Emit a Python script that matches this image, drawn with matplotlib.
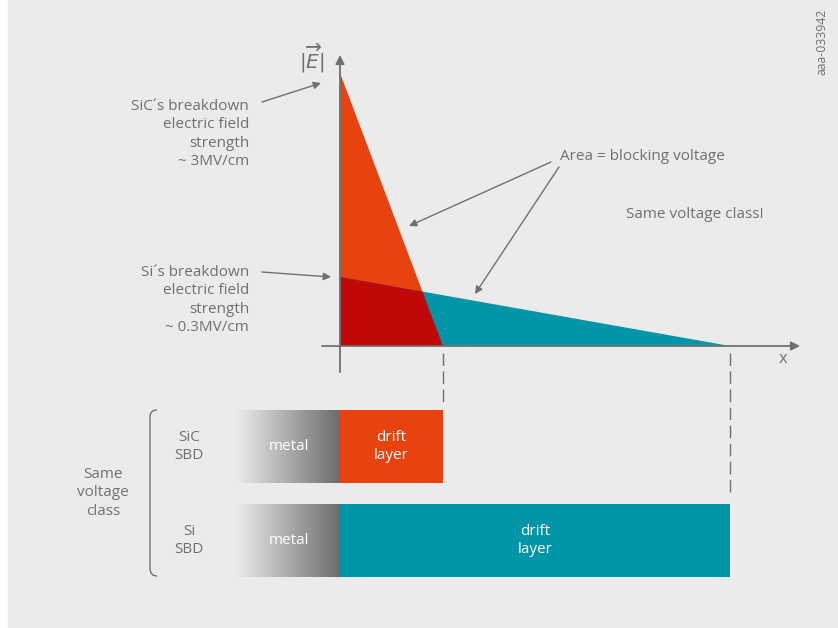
import numpy as np
import matplotlib
matplotlib.use('Agg')
from matplotlib import pyplot as plt
from matplotlib.patches import Polygon, Rectangle, PathPatch
from matplotlib.path import Path

# diagram values (relative units: 1 unit = 100 px of the drawing)
materials = ['SiC', 'Si']
peak_field = [2.73, 0.69]        # breakdown field drawn height
drift_width = [1.03, 3.90]       # drift layer thickness
field_labels = ['SiC\u00b4s breakdown\nelectric field\nstrength\n~ 3MV/cm',
                'Si\u00b4s breakdown\nelectric field\nstrength\n~ 0.3MV/cm']
device_labels = ['SiC\nSBD', 'Si\nSBD']
fill_colors = ['#e8420e', '#0096a8']
overlap_color = '#c00808'
metal_width = 1.03

GRAY = '#707070'
plt.rcParams['font.family'] = ['Open Sans', 'DejaVu Sans']
plt.rcParams['font.size'] = 11


def px(x, y):
    # pixel position of the reference drawing -> data units
    return ((x - 340) / 100.0, (346 - y) / 100.0)


fig = plt.figure(figsize=(8.38, 6.28), dpi=100)
fig.patch.set_facecolor('white')
ax = fig.add_axes([0, 0, 1, 1])
ax.set_xlim(-3.40, 4.98)
ax.set_ylim(-2.82, 3.46)
ax.axis('off')

# background panel
x0, y0 = px(8, 628)
ax.add_patch(Rectangle((x0, y0), 10, 7, color='#ebebeb', zorder=0))

# field triangles
tri = []
for i in range(2):
    p = Polygon([(0, 0), (0, peak_field[i]), (drift_width[i], 0)],
                closed=True, color=fill_colors[i], lw=0, zorder=2)
    ax.add_patch(p)
    tri.append(p)
ov = Polygon([(0, 0), (0, peak_field[1]), (drift_width[1], 0)],
             closed=True, color=overlap_color, lw=0, zorder=3)
ax.add_patch(ov)
ov.set_clip_path(tri[0])

# axes arrows
arw = dict(arrowstyle='-|>', color=GRAY, lw=1.3, mutation_scale=13,
           shrinkA=0, shrinkB=0)
ax.annotate('', xy=px(340, 55), xytext=px(340, 372), arrowprops=arw, zorder=4)
ax.annotate('', xy=px(800, 346), xytext=px(322, 346), arrowprops=arw, zorder=4)
ax.text(*px(312, 58), r'$|\overrightarrow{E}|$', color=GRAY, fontsize=14.5,
        ha='center', va='center')
ax.text(*px(783, 359), 'x', color=GRAY, fontsize=12, ha='center', va='center')

# annotations
arw2 = dict(arrowstyle='-|>', color=GRAY, lw=1, mutation_scale=11,
            shrinkA=0, shrinkB=0)
ax.text(*px(249, 134), field_labels[0], color=GRAY, ha='right', va='center',
        multialignment='right', linespacing=1.3)
ax.annotate('', xy=px(321, 83), xytext=px(262, 102), arrowprops=arw2)
ax.text(*px(249, 300), field_labels[1], color=GRAY, ha='right', va='center',
        multialignment='right', linespacing=1.3)
ax.annotate('', xy=px(331, 277), xytext=px(262, 272), arrowprops=arw2)

ax.text(*px(560, 156), 'Area = blocking voltage', color=GRAY, ha='left', va='center')
ax.annotate('', xy=px(409, 226), xytext=px(551, 162), arrowprops=arw2)
ax.annotate('', xy=px(475, 294), xytext=px(559, 167), arrowprops=arw2)
ax.text(*px(626, 214), 'Same voltage class!', color=GRAY, ha='left', va='center')

ax.text(*px(822, 42), 'aaa-033942', color=GRAY, fontsize=8.8, rotation=90,
        ha='center', va='center')

# device cross sections
bar_y = [px(0, 446.5)[1], px(0, 540.5)[1]]
bar_h = 0.73
ax.barh(bar_y, drift_width, height=bar_h, left=0, color=fill_colors, zorder=2)
grad = np.linspace(0, 1, 256).reshape(1, -1)
cmap = matplotlib.colors.LinearSegmentedColormap.from_list('metal', ['#ebebeb', '#6c6c6c'])
for i in range(2):
    ax.imshow(grad, cmap=cmap, aspect='auto', zorder=2,
              extent=(-metal_width, 0, bar_y[i] - bar_h / 2, bar_y[i] + bar_h / 2))
    ax.text(-metal_width / 2, bar_y[i], 'metal', color='white', ha='center',
            va='center', zorder=3)
    ax.text(drift_width[i] / 2, bar_y[i], 'drift\nlayer', color='white', ha='center',
            va='center', linespacing=1.3, zorder=3)
    ax.text(px(189, 0)[0], bar_y[i], device_labels[i], color=GRAY, ha='center',
            va='center', linespacing=1.3)
    # dashed guide from drift edge to bar
    y_end = bar_y[i] + bar_h / 2 + 0.07
    ax.plot([drift_width[i], drift_width[i]], [-0.07, y_end], color=GRAY, lw=1,
            linestyle=(0, (9, 4)), zorder=1)

# bracket
b = [px(157, 410), px(150, 410), px(150, 417), px(150, 568), px(150, 576), px(157, 576)]
path = Path(b, [Path.MOVETO, Path.CURVE3, Path.CURVE3, Path.LINETO, Path.CURVE3, Path.CURVE3])
ax.add_patch(PathPatch(path, fill=False, edgecolor=GRAY, lw=1))
ax.text(*px(103, 493), 'Same\nvoltage\nclass', color=GRAY, ha='center', va='center',
        linespacing=1.3)

ax.set_xlim(-3.40, 4.98)
ax.set_ylim(-2.82, 3.46)
plt.savefig('out.png', dpi=100)
